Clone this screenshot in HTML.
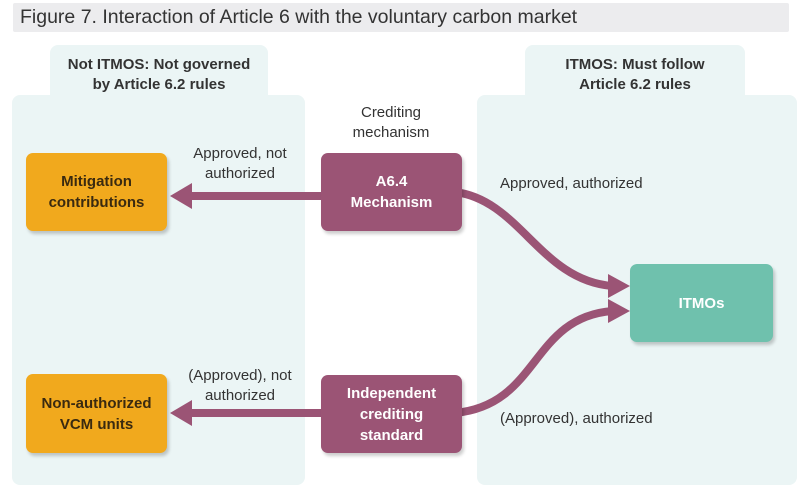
<!DOCTYPE html>
<html><head><meta charset="utf-8"><style>
body{margin:0;width:800px;height:488px;background:#fff;position:relative;overflow:hidden;font-family:"Liberation Sans",sans-serif}
.a{position:absolute}
.t{left:13px;top:3px;width:776px;height:29px;background:#ececee;font-size:19.5px;color:#333;line-height:29px;padding-left:7px;box-sizing:border-box;border-radius:2px}
.p{background:#ebf5f5;border-radius:8px}
.h{font-weight:bold;font-size:15px;color:#333;text-align:center;line-height:20px}
.b{border-radius:7px;display:flex;align-items:center;justify-content:center;text-align:center;font-weight:bold;font-size:15px;line-height:21px;box-shadow:2px 3px 3px rgba(0,0,0,.2)}
.o{background:#f1a91d;color:#3a2a10}
.m{background:#9b5475;color:#fff}
.l{font-size:15px;color:#333;text-align:center;line-height:20px}
</style></head><body>
<div class="a t">Figure 7. Interaction of Article 6 with the voluntary carbon market</div>
<div class="a p" style="left:50px;top:45px;width:218px;height:60px"></div>
<div class="a p" style="left:12px;top:95px;width:293px;height:390px"></div>
<div class="a p" style="left:525px;top:45px;width:220px;height:60px"></div>
<div class="a p" style="left:477px;top:95px;width:320px;height:390px"></div>
<div class="a h" style="left:50px;top:55px;width:218px">Not ITMOS: Not governed<br>by Article 6.2 rules</div>
<div class="a h" style="left:525px;top:55px;width:220px">ITMOS: Must follow<br>Article 6.2 rules</div>
<div class="a l" style="left:330px;top:103px;width:122px">Crediting<br>mechanism</div>
<div class="a l" style="left:180px;top:144px;width:120px">Approved, not<br>authorized</div>
<div class="a l" style="left:175px;top:366px;width:130px">(Approved), not<br>authorized</div>
<div class="a l" style="left:500px;top:174px;text-align:left">Approved, authorized</div>
<div class="a l" style="left:500px;top:409px;text-align:left">(Approved), authorized</div>
<svg class="a" style="left:0;top:0" width="800" height="488">
<g fill="none" stroke="#9b5475" stroke-width="8">
<path d="M322 196 H188"/><path d="M322 413 H188"/>
<path d="M455 192 C520 200 540 280 612 286"/>
<path d="M455 413 C540 405 530 318 612 311"/>
</g>
<g fill="#9b5475">
<polygon points="170,196 192,183 192,209"/>
<polygon points="170,413 192,400 192,426"/>
<polygon points="630,286 608,274 608,298"/>
<polygon points="630,311 608,299 608,323"/>
</g>
</svg>
<div class="a b o" style="left:26px;top:153px;width:141px;height:78px">Mitigation<br>contributions</div>
<div class="a b o" style="left:26px;top:374px;width:141px;height:79px">Non-authorized<br>VCM units</div>
<div class="a b m" style="left:321px;top:153px;width:141px;height:78px">A6.4<br>Mechanism</div>
<div class="a b m" style="left:321px;top:375px;width:141px;height:78px">Independent<br>crediting<br>standard</div>
<div class="a b" style="left:630px;top:264px;width:143px;height:78px;background:#6fc1ad;color:#fff">ITMOs</div>
</body></html>
